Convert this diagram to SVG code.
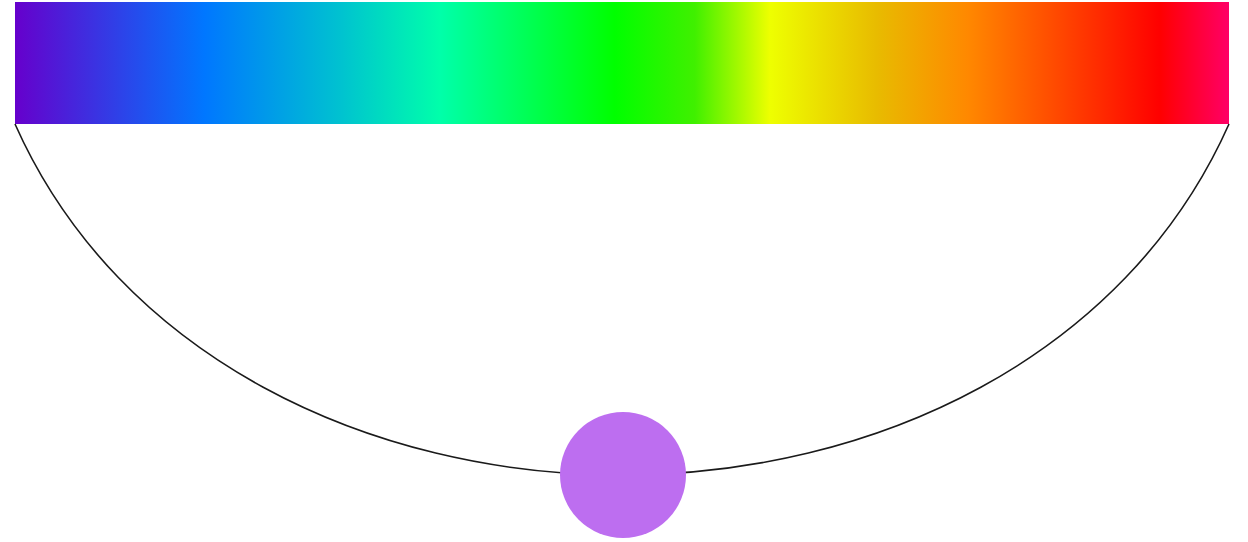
<svg xmlns="http://www.w3.org/2000/svg" width="1248" height="542" viewBox="0 0 1248 542">
  <defs>
    <linearGradient id="spectrum" x1="15" y1="0" x2="1229" y2="0" gradientUnits="userSpaceOnUse">
      <stop offset="0" stop-color="#6600CC"/>
      <stop offset="0.156" stop-color="#0077FF"/>
      <stop offset="0.268" stop-color="#00C2D0"/>
      <stop offset="0.35" stop-color="#00FFAA"/>
      <stop offset="0.494" stop-color="#00FF00"/>
      <stop offset="0.56" stop-color="#40F000"/>
      <stop offset="0.622" stop-color="#EEFF00"/>
      <stop offset="0.71" stop-color="#E8BB00"/>
      <stop offset="0.785" stop-color="#FF8800"/>
      <stop offset="0.943" stop-color="#FF0000"/>
      <stop offset="1" stop-color="#FF0066"/>
    </linearGradient>
  </defs>
  <style>
    .arc { fill: none; stroke: #1a1a1a; stroke-width: 1.6; }
    .knob { fill: #BD6EF0; }
  </style>
  <rect width="1248" height="542" fill="#FFFFFF"/>
  <g id="spectrum-bar">
    <rect x="15" y="2" width="1214" height="122" fill="url(#spectrum)"/>
  </g>
  <g id="connectors">
    <path class="arc" d="M15,124 C223,592 1021,592 1229,124"/>
  </g>
  <g id="knob">
    <circle class="knob" cx="623" cy="475" r="63"/>
  </g>
</svg>
